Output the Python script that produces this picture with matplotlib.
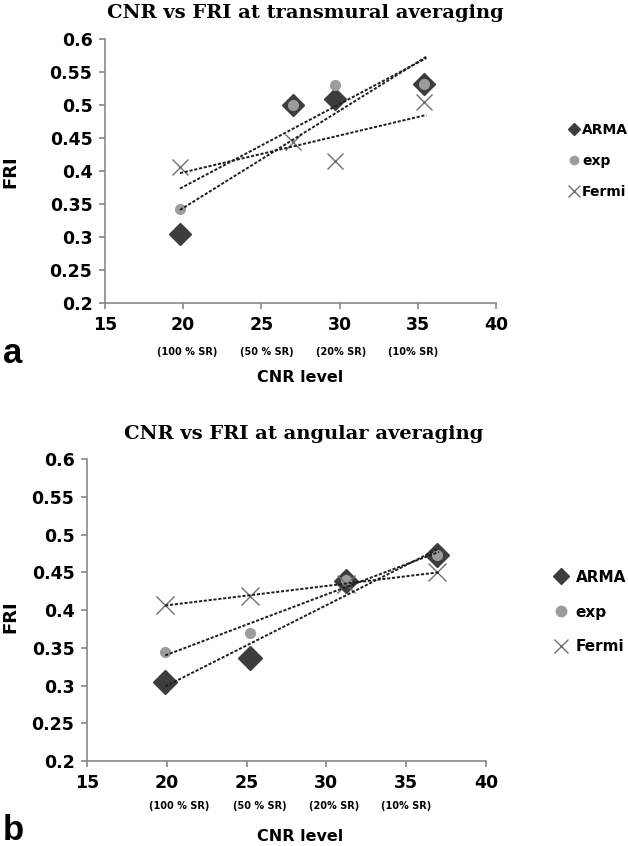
import numpy as np
import matplotlib.pyplot as plt
from matplotlib.lines import Line2D

# panel a: transmural averaging
cnr_a = [19.8, 27.0, 29.7, 35.4]
arma_a = [0.305, 0.500, 0.510, 0.533]
exp_a = [0.343, 0.500, 0.530, 0.533]
fermi_a = [0.407, 0.445, 0.415, 0.505]

# panel b: angular averaging
cnr_b = [19.9, 25.2, 31.2, 36.9]
arma_b = [0.305, 0.337, 0.438, 0.473]
exp_b = [0.345, 0.370, 0.440, 0.473]
fermi_b = [0.407, 0.418, 0.435, 0.450]

series_names = ['ARMA', 'exp', 'Fermi']
sr_labels = ['(100 % SR)', '(50 % SR)', '(20% SR)', '(10% SR)']
xticks = [15, 20, 25, 30, 35, 40]
yticks = [0.2, 0.25, 0.3, 0.35, 0.4, 0.45, 0.5, 0.55, 0.6]

W, H = 628, 846
C_ARMA = '#3d3d3d'
C_EXP = '#9c9c9c'
C_FERMI = '#707070'
C_AXIS = '#878787'
SANS = 'DejaVu Sans'
SERIF = 'DejaVu Serif'

fig = plt.figure(figsize=(W / 100, H / 100), dpi=100)


def px_axes(left, right, top, bottom):
    return fig.add_axes([left / W, 1 - bottom / H, (right - left) / W, (bottom - top) / H])


def trend(ax, x, y):
    # linear trendline, like excel
    k, b = np.polyfit(x, y, 1)
    xx = np.array([min(x), max(x) + 0.15])
    ax.plot(xx, k * xx + b, color='#1e1e1e', lw=1.4, ls=(0, (1.6, 0.9)), zorder=5)


def panel(ax, x, arma, exp, fermi, ms_d, ms_c, ms_x, tick_pad):
    ax.plot(x, arma, 'D', color=C_ARMA, ms=ms_d, mec=C_ARMA, zorder=2)
    ax.plot(x, exp, 'o', color=C_EXP, ms=ms_c, mec=C_EXP, zorder=3)
    ax.plot(x, fermi, 'x', color=C_FERMI, ms=ms_x, mew=1.0, zorder=4)
    for yy in (arma, exp, fermi):
        trend(ax, x, yy)
    ax.set_xlim(15, 40)
    ax.set_ylim(0.2, 0.6)
    ax.set_xticks(xticks)
    ax.set_yticks(yticks)
    ax.set_xticklabels([str(v) for v in xticks])
    ax.set_yticklabels([f'{v:g}' for v in yticks])
    for s in ('top', 'right'):
        ax.spines[s].set_visible(False)
    for s in ('left', 'bottom'):
        ax.spines[s].set_color(C_AXIS)
        ax.spines[s].set_linewidth(1.2)
    ax.tick_params(direction='out', length=4, width=1.2, color=C_AXIS,
                   labelsize=12.5, pad=tick_pad)
    for lab in ax.get_xticklabels() + ax.get_yticklabels():
        lab.set_fontweight('bold')
        lab.set_fontfamily(SANS)


def legend(xy, fs, ms_d, ms_c, ms_x, spacing, textpad):
    handles = [
        Line2D([], [], ls='none', marker='D', color=C_ARMA, ms=ms_d),
        Line2D([], [], ls='none', marker='o', color=C_EXP, ms=ms_c),
        Line2D([], [], ls='none', marker='x', color=C_FERMI, ms=ms_x, mew=1.0),
    ]
    fig.legend(handles, series_names, loc='center left',
               bbox_to_anchor=(xy[0] / W, 1 - xy[1] / H), frameon=False,
               handlelength=0.7, handletextpad=textpad, labelspacing=spacing,
               borderpad=0, prop={'family': SANS, 'weight': 'bold', 'size': fs})


# ---- panel a ----
ax1 = px_axes(105, 496, 39.3, 303.3)
panel(ax1, cnr_a, arma_a, exp_a, fermi_a, 11.5, 7, 11, 5)
fig.text(305 / W, 1 - 13 / H, 'CNR vs FRI at transmural averaging', ha='center', va='center',
         family=SERIF, weight='bold', size=14)
legend((562, 161), 10, 6, 6, 8.5, 1.25, 0.25)
sub_x_a = [20.24, 25.36, 30.1, 34.7]
for sx, lab in zip(sub_x_a, sr_labels):
    ax1.text(sx, -0.184, lab, transform=ax1.get_xaxis_transform(), ha='center', va='center',
             family=SANS, weight='bold', size=7)
fig.text(300 / W, 1 - 377 / H, 'CNR level', ha='center', va='center',
         family=SANS, weight='bold', size=11.5)
fig.text(10 / W, 1 - 172 / H, 'FRI', ha='center', va='center', rotation=90,
         family=SANS, weight='bold', size=13)
fig.text(3 / W, 1 - 363 / H, 'a', ha='left', va='baseline',
         family='Liberation Sans', weight='bold', size=25)

# ---- panel b ----
ax2 = px_axes(87, 486, 459, 761)
panel(ax2, cnr_b, arma_b, exp_b, fermi_b, 12.5, 7, 13, 5)
fig.text(304 / W, 1 - 434 / H, 'CNR vs FRI at angular averaging', ha='center', va='center',
         family=SERIF, weight='bold', size=14)
legend((548, 612), 11, 8, 7.5, 10, 1.3, 0.6)
sub_x_b = [20.8, 25.8, 30.5, 35.0]
for sx, lab in zip(sub_x_b, sr_labels):
    ax2.text(sx, -0.149, lab, transform=ax2.get_xaxis_transform(), ha='center', va='center',
             family=SANS, weight='bold', size=7)
fig.text(300 / W, 1 - 836 / H, 'CNR level', ha='center', va='center',
         family=SANS, weight='bold', size=11.5)
fig.text(10 / W, 1 - 617 / H, 'FRI', ha='center', va='center', rotation=90,
         family=SANS, weight='bold', size=13)
fig.text(3 / W, 1 - 840 / H, 'b', ha='left', va='baseline',
         family='Liberation Sans', weight='bold', size=25)

fig.savefig('out.png', dpi=100)
